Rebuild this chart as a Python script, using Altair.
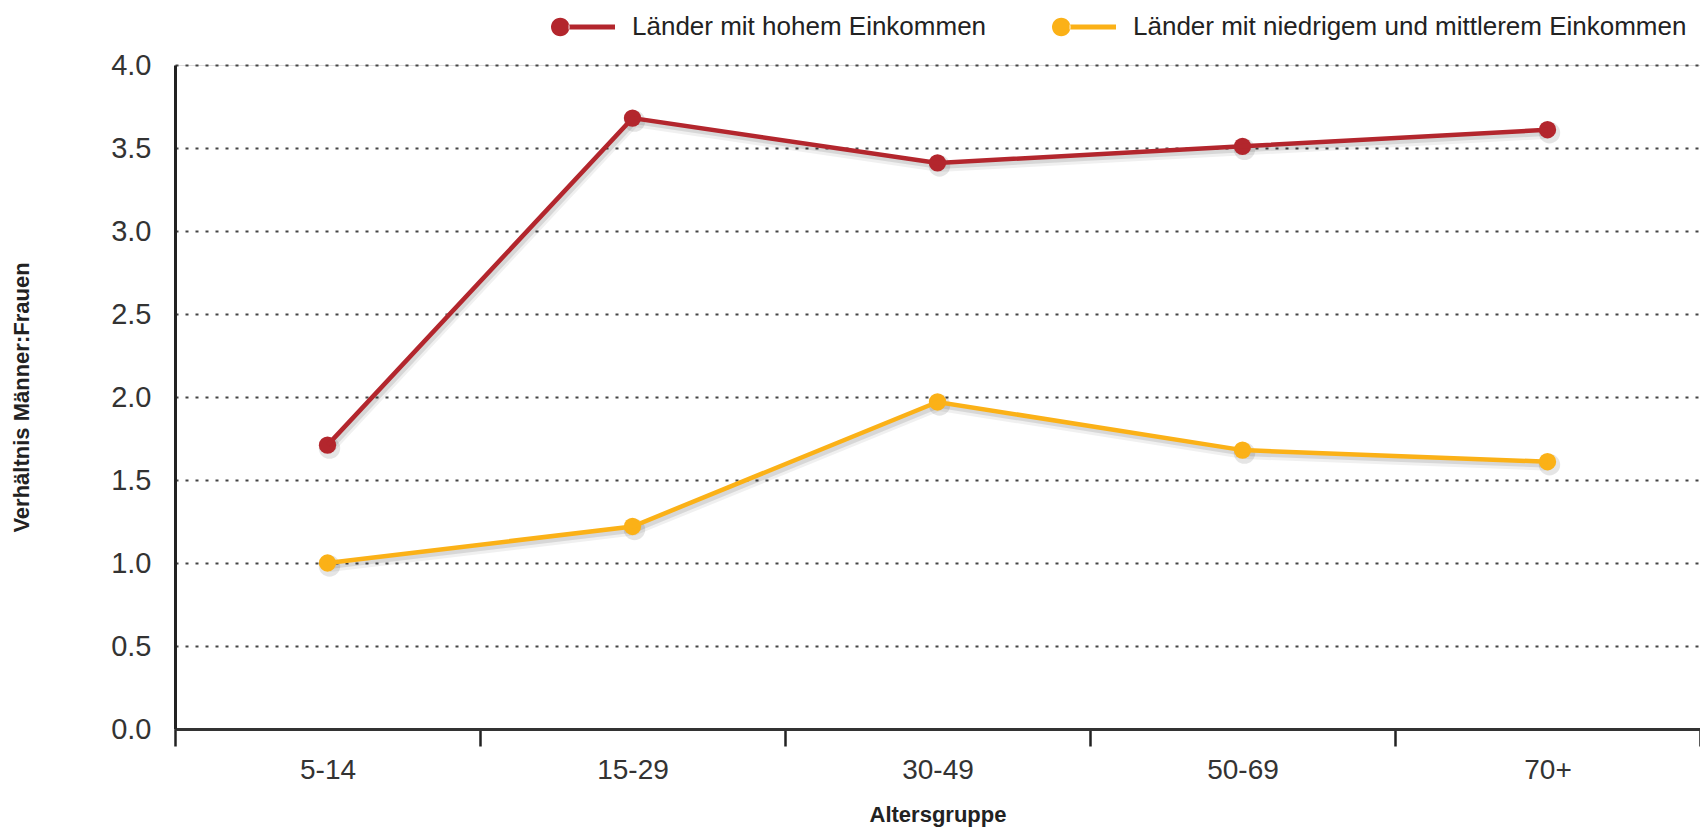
import altair as alt
import pandas as pd

categories = ["5-14", "15-29", "30-49", "50-69", "70+"]
series_names = ["Länder mit hohem Einkommen", "Länder mit niedrigem und mittlerem Einkommen"]
high_income = [1.71, 3.68, 3.41, 3.51, 3.61]
low_mid_income = [1.00, 1.22, 1.97, 1.68, 1.61]
colors = ["#B3262D", "#FBB117"]
y_ticks = [0, 0.5, 1.0, 1.5, 2.0, 2.5, 3.0, 3.5, 4.0]

rows = []
for name, vals in zip(series_names, [high_income, low_mid_income]):
    for c, v in zip(categories, vals):
        rows.append({"Altersgruppe": c, "Wert": v, "Serie": name})
df = pd.DataFrame(rows)

FONT = "Liberation Sans"
legend_path = ("M -1 0 A 0.29 0.29 0 1 0 -0.42 0 A 0.29 0.29 0 1 0 -1 0 Z "
               "M -0.45 -0.075 L 1 -0.075 L 1 0.075 L -0.45 0.075 Z")

x_enc = alt.X(
    "Altersgruppe:N",
    sort=categories,
    scale=alt.Scale(type="band", paddingInner=0, paddingOuter=0),
    axis=alt.Axis(
        title="Altersgruppe",
        labelAngle=0,
        tickBand="extent",
        tickSize=17,
        tickWidth=2.5,
        tickColor="#222222",
        domainColor="#333333",
        domainWidth=3,
        labelFontSize=28,
        labelColor="#333333",
        labelPadding=10,
        labelFont=FONT,
        titleFont=FONT,
        titleFontSize=22,
        titleFontWeight="bold",
        titleColor="#222222",
        titleY=92,
        titleBaseline="alphabetic",
        grid=False,
    ),
)
y_enc = alt.Y(
    "Wert:Q",
    scale=alt.Scale(domain=[0, 4], nice=False),
    axis=alt.Axis(
        title="Verhältnis Männer:Frauen",
        values=y_ticks,
        format=".1f",
        grid=True,
        gridDash=[3, 7],
        gridColor="#444444",
        gridWidth=2,
        domainColor="#222222",
        domainWidth=3,
        ticks=False,
        tickSize=0,
        labelPadding=24,
        labelFontSize=29,
        labelColor="#333333",
        labelFont=FONT,
        titleFont=FONT,
        titleFontSize=22,
        titleFontWeight="bold",
        titleColor="#222222",
        titleX=-147,
        titleY=332,
        titleBaseline="alphabetic",
    ),
)

legend = alt.Legend(
    title=None,
    orient="none",
    legendX=376,
    legendY=-70,
    direction="horizontal",
    symbolType=legend_path,
    symbolSize=4096,
    symbolStrokeWidth=0,
    labelFont=FONT,
    labelFontSize=26,
    labelColor="#222222",
    labelOffset=17,
    columnPadding=65,
    padding=0,
    labelLimit=800,
)
color_enc = alt.Color(
    "Serie:N",
    scale=alt.Scale(domain=series_names, range=colors),
    legend=legend,
)

base = alt.Chart(df)

shadow_wide = base.mark_line(strokeWidth=10, opacity=0.06, color="#000000", xOffset=2, yOffset=4).encode(
    x=x_enc, y=y_enc, detail="Serie:N")
shadow_line = base.mark_line(strokeWidth=6, opacity=0.10, color="#000000", xOffset=2, yOffset=3).encode(
    x=x_enc, y=y_enc, detail="Serie:N")
shadow_pts = base.mark_circle(size=460, opacity=0.10, color="#000000", xOffset=2, yOffset=3).encode(
    x=x_enc, y=y_enc)

points = base.mark_point(filled=True, size=300, opacity=1).encode(x=x_enc, y=y_enc, color=color_enc)
lines = base.mark_line(strokeWidth=4.5).encode(x=x_enc, y=y_enc, color=color_enc)

chart = alt.layer(shadow_wide, shadow_line, shadow_pts, points, lines).properties(
    width=1525,
    height=664,
    autosize=alt.AutoSizeParams(type="none"),
    padding={"left": 167, "top": 57, "right": 0, "bottom": 99},
    background="white",
).configure_view(stroke=None).configure(font=FONT)

chart.save("out.html", embed_options={"renderer": "svg", "actions": False})
